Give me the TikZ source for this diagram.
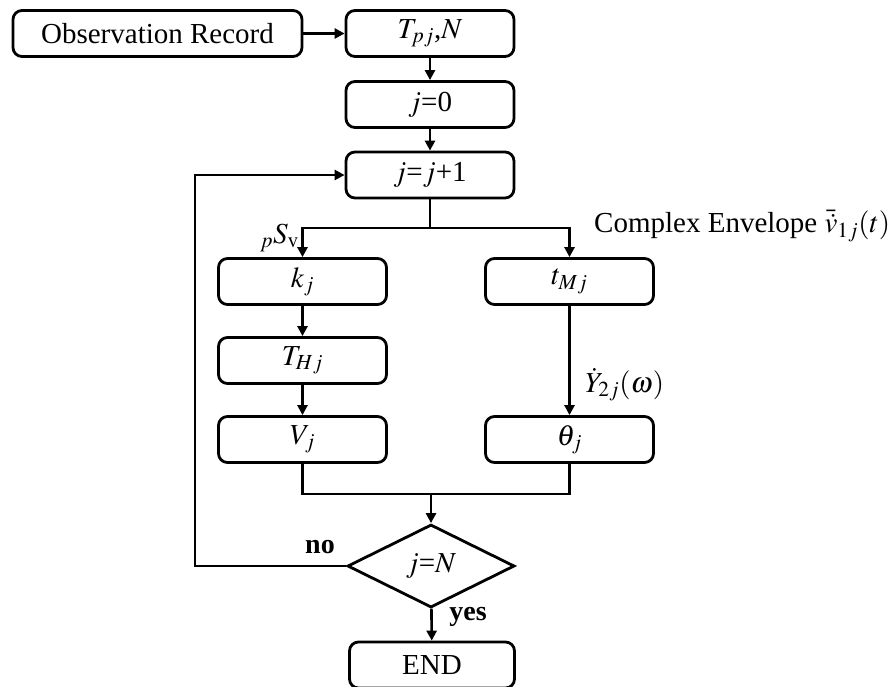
\documentclass[tikz,border=0pt]{standalone}
\usepackage{mathptmx}
\usepackage{fontspec}
\setmainfont{Liberation Serif}
\usetikzlibrary{shapes}
\usetikzlibrary{arrows.meta}
\tikzset{
    box/.style = {rectangle, rounded corners=9pt, line width=2.8pt, draw=black, minimum width=168pt, minimum height=46pt, inner sep=0pt},
    decision/.style = {diamond, line width=2.8pt, draw=black, minimum width=167pt, minimum height=83pt, inner sep=0pt, aspect=2},
    edgen/.style = {-{Triangle[length=10pt,width=10pt]}, line width=2.6pt},
    linen/.style = {line width=2.6pt},
    lbl/.style = {inner sep=0pt},
}

\begin{document}
\begin{tikzpicture}[x=1pt,y=-1pt,font=\fontsize{29}{34}\selectfont]
\useasboundingbox (0,0) rectangle (893,686);
\node[box, minimum width=289pt] at (157.5, 33.5) (obs) {Observation Record};
\node[box] at (430, 33.5) (tpn) {$T_{pj}$,$N$};
\node[box] at (430, 104.5) (j0) {$j$=0};
\node[box] at (430, 175) (jinc) {$j$=$j$+1};
\node[box] at (302.5, 281.5) (kj) {$k_j$};
\node[box] at (569.5, 281.5) (tm) {$t_{Mj}$};
\node[box] at (302.5, 360.5) (th) {$T_{Hj}$};
\node[box] at (302.5, 439.5) (vj) {$V_j$};
\node[box] at (569.5, 439.5) (theta) {$\theta_j$};
\node[decision] at (431, 566) (dec) {$j$=$N$};
\node[box, minimum width=165pt] at (432, 665) (stop) {END};
%
\coordinate (split) at (430, 228);
\coordinate (merge) at (431, 494);
\coordinate (loop) at (195, 566);
%
\node[lbl, anchor=south east] at (299, 252) (psv) {${}_{p}S_{\mathrm{v}}$};
\node[lbl, anchor=west] at (594, 226) (env) {Complex Envelope $\bar{\dot{v}}_{1j}(t)$};
\node[lbl, anchor=west] at (585, 385) (ylab) {$\dot{Y}_{2j}(\omega)$};
\node[lbl, font=\fontsize{28}{32}\selectfont\bfseries] at (320, 547) (no) {no};
\node[lbl, font=\fontsize{28}{32}\selectfont\bfseries] at (468, 617) (yes) {yes};
%
\draw[edgen] (obs) -- (tpn);
\draw[edgen] (tpn) -- (j0);
\draw[edgen] (j0) -- (jinc);
\draw[linen] (jinc) -- (split);
\draw[edgen] (split) -| (kj);
\draw[edgen] (split) -| (tm);
\draw[edgen] (kj) -- (th);
\draw[edgen] (th) -- (vj);
\draw[edgen] (tm) -- (theta);
\draw[linen] (vj) |- (merge);
\draw[linen] (theta) |- (merge);
\draw[edgen] (merge) -- (dec);
\draw[edgen] (dec.west) -- (loop) |- (jinc);
\draw[edgen] (dec) -- (stop);
\end{tikzpicture}
\end{document}
